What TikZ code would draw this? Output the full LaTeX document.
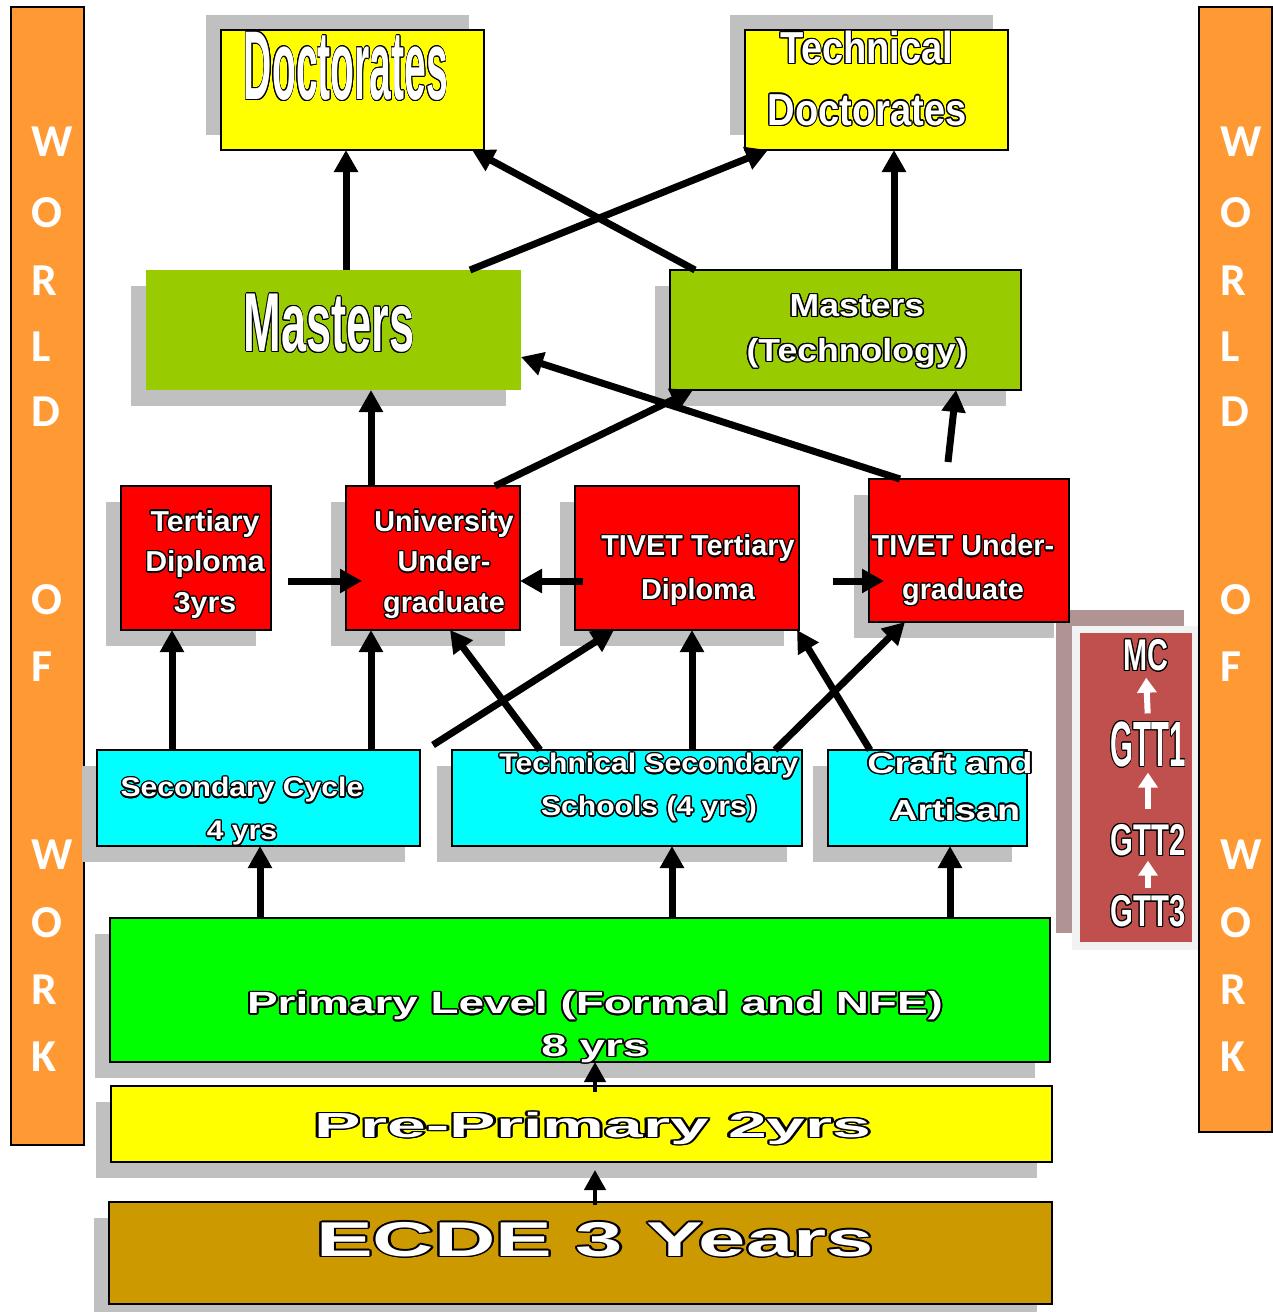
\documentclass[tikz,border=0pt]{standalone}
\usepackage{fontspec}
\setmainfont{Liberation Sans}
\newfontfamily\wowfont{Carlito}
\usepackage{graphicx}
\usepackage{contour}
\contourlength{0.7pt}
\usetikzlibrary{calc,arrows.meta,shadows}
\definecolor{orng}{HTML}{FF9933}
\definecolor{yel}{HTML}{FFFF00}
\definecolor{mgrn}{HTML}{99CC00}
\definecolor{rd}{HTML}{FF0000}
\definecolor{cyn}{HTML}{00FFFF}
\definecolor{pgrn}{HTML}{00FF00}
\definecolor{ecdecol}{HTML}{CC9900}
\definecolor{shade}{HTML}{C0C0C0}
\definecolor{gttred}{HTML}{C0504D}
\definecolor{gttsh}{HTML}{B09494}
\definecolor{gttfr}{HTML}{F2F2F2}
\newcommand{\otxt}[2][1]{\scalebox{#1}[1]{\contour{black}{#2}}}
\tikzset{
  box/.style={draw=black, line width=0.6pt, inner sep=0pt, outer sep=0pt},
  shdn/.style={drop shadow={shadow xshift=-3.1mm, shadow yshift=-3.1mm, fill=shade, opacity=1}},
  shup/.style={drop shadow={shadow xshift=-3mm, shadow yshift=3mm, fill=shade, opacity=1}},
  arr/.style={line width=1.4mm, -{Triangle[length=4.4mm,width=4.6mm]}},
  arrs/.style={line width=0.9mm, -{Triangle[length=4mm,width=4.2mm]}},
  warr/.style={draw=white, line width=1.2mm, -{Triangle[length=3mm,width=3.8mm]}},
  lbl/.style={text=white, inner sep=0pt, align=center},
  wow/.style={text=white, inner sep=0pt, anchor=west, font=\wowfont\bfseries\fontsize{26}{26}\selectfont},
}

\begin{document}
\begin{tikzpicture}[x=0.2mm, y=-0.2mm]
  \def\px{0.2mm}
  \useasboundingbox (0,0) rectangle (1273,1312);
  % world of work bars
  \node[box, fill=orng, minimum width=73*\px, minimum height=1138*\px] (wl) at (47.5,576) {};
  \node[box, fill=orng, minimum width=73*\px, minimum height=1125*\px] (wr) at (1235.5,569.5) {};
  \foreach \c/\y in {W/142,O/213,R/281,L/347,D/412,O/600,F/667,W/855,O/923,R/990,K/1057} {
    \node[wow] (wl\y) at (31,\y) {\c};
    \node[wow] (wr\y) at (1220,\y) {\c};
  }
  % trade test panel
  \fill[gttsh] (1056,610) rectangle (1184,933);
  \fill[gttfr] (1072,626) rectangle (1198,950);
  \node[fill=gttred, inner sep=0pt, minimum width=112*\px, minimum height=309*\px] (gtt) at (1136,787.5) {};
  \node[lbl, font=\bfseries\fontsize{25.3}{25.3}\selectfont] (mc) at (1146,656) {\otxt[0.65]{MC}};
  \node[lbl, font=\bfseries\fontsize{36.4}{36.4}\selectfont] (g1) at (1148,745) {\otxt[0.46]{GTT1}};
  \node[lbl, font=\bfseries\fontsize{25.3}{25.3}\selectfont] (g2) at (1148,841) {\otxt[0.66]{GTT2}};
  \node[lbl, font=\bfseries\fontsize{25.3}{25.3}\selectfont] (g3) at (1148,912) {\otxt[0.66]{GTT3}};
  \draw[warr, shorten <=1.6mm, shorten >=1mm] (g1.north) -- (mc.south);
  \draw[warr, shorten <=3mm, shorten >=0.8mm] (g2.north) -- (g1.south);
  \draw[warr, shorten <=1.4mm, shorten >=0.6mm] (g3.north) -- (g2.south);
  % doctorates
  \node[box, fill=yel, shup, minimum width=263*\px, minimum height=120*\px] (doc) at (352.5,90) {};
  \node[box, fill=yel, shup, minimum width=263*\px, minimum height=120*\px] (tdoc) at (876.5,90) {};
  % masters
  \node[box, draw=none, fill=mgrn, shdn, minimum width=375*\px, minimum height=120*\px] (mast) at (333.5,330) {};
  \node[box, fill=mgrn, shdn, minimum width=351*\px, minimum height=120*\px] (mtech) at (845.5,330) {};
  % tertiary
  \node[box, fill=rd, shdn, minimum width=150*\px, minimum height=144*\px] (tdip) at (196,558) {};
  \node[box, fill=rd, shdn, minimum width=174*\px, minimum height=144*\px] (uug) at (433,558) {};
  \node[box, fill=rd, shdn, minimum width=224*\px, minimum height=144*\px] (ttd) at (687,558) {};
  \node[box, fill=rd, shdn, minimum width=200*\px, minimum height=143*\px] (tug) at (969,550.5) {};
  % secondary
  \node[box, fill=cyn, shdn, minimum width=323*\px, minimum height=96*\px] (sec) at (258.5,798) {};
  \node[box, fill=cyn, shdn, minimum width=350*\px, minimum height=96*\px] (tss) at (627,798) {};
  \node[box, fill=cyn, shdn, minimum width=199*\px, minimum height=96*\px] (craft) at (927.5,798) {};
  % primary and below
  \node[box, fill=pgrn, shdn, minimum width=940*\px, minimum height=144*\px] (prim) at (580,990) {};
  \node[box, fill=yel, shdn, minimum width=941*\px, minimum height=76*\px] (pre) at (581.5,1124) {};
  \node[box, fill=ecdecol, shdn, minimum width=943*\px, minimum height=102*\px] (ecde) at (580.5,1253) {};

  % labels
  \node[lbl, font=\bfseries\fontsize{55.6}{55.6}\selectfont] (doc-t) at (346,67) {\otxt[0.40]{Doctorates}};
  \node[lbl, font=\bfseries\fontsize{25.5}{35}\selectfont] (tdoc-t) at (867,79) {\otxt[0.85]{Technical}\\\otxt[0.85]{Doctorates}};
  \node[lbl, font=\bfseries\fontsize{47.6}{47.6}\selectfont] (mast-t) at (329,324) {\otxt[0.54]{Masters}};
  \node[lbl, font=\bfseries\fontsize{18.1}{25.5}\selectfont] (mtech-t) at (857,332) {\otxt[1.12]{Masters}\\\otxt[1.12]{(Technology)}};
  \node[lbl, font=\bfseries\fontsize{16.4}{23.2}\selectfont] (tdip-t) at (205,565) {\otxt[1.05]{Tertiary}\\\otxt[1.05]{Diploma}\\\otxt[1.05]{3yrs}};
  \node[lbl, font=\bfseries\fontsize{16.4}{23.2}\selectfont] (uug-t) at (444,565) {\otxt{University}\\\otxt{Under-}\\\otxt{graduate}};
  \node[lbl, font=\bfseries\fontsize{16.4}{24.9}\selectfont] (ttd-t) at (698,571) {\otxt{TIVET Tertiary}\\\otxt{Diploma}};
  \node[lbl, font=\bfseries\fontsize{16.4}{24.9}\selectfont] (tug-t) at (963,571) {\otxt{TIVET Under-}\\\otxt{graduate}};
  \node[lbl, font=\bfseries\fontsize{15.3}{24.4}\selectfont] (sec-t) at (242,812) {\otxt[1.12]{Secondary Cycle}\\\otxt[1.12]{4 yrs}};
  \node[lbl, font=\bfseries\fontsize{15.3}{24.4}\selectfont] (tss-t) at (649,788) {\otxt[1.12]{Technical Secondary}\\\otxt[1.12]{Schools (4 yrs)}};
  \node[lbl, font=\bfseries\fontsize{16.5}{26.6}\selectfont] (craft-t) at (950,787) {\otxt[1.3]{Craft and}\\\otxt[1.3]{~Artisan}};
  \node[lbl, font=\bfseries\fontsize{17.4}{24.4}\selectfont] (prim-t) at (595,1028) {\otxt[1.5]{Primary Level (Formal and NFE)}\\\otxt[1.5]{8 yrs}};
  \node[lbl, font=\bfseries\fontsize{19.8}{19.8}\selectfont] (pre-t) at (593,1129) {\otxt[2.0]{Pre-Primary 2yrs}};
  \node[lbl, font=\bfseries\fontsize{27.8}{27.8}\selectfont] (ecde-t) at (595,1240) {\otxt[1.74]{ECDE 3 Years}};

  % to doctorates
  \draw[arr] (mast.north -| 346,0) -- (doc.south -| 346,0);
  \draw[arr] (mast.north -| 470,0) -- (tdoc.south -| 768,0);
  \draw[arr] (mtech.north -| 695,0) -- (doc.south -| 472,0);
  \draw[arr] (mtech.north -| 894,0) -- (tdoc.south -| 894,0);
  % to masters
  \draw[arr] (uug.north -| 371,0) -- (mast.south -| 371,0);
  \draw[arr] (uug.north -| 495,0) -- (mtech.south -| 693,0);
  \draw[arr] (tug.north -| 900,0) -- (mast.east |- 0,357);
  \coordinate (tugtop) at (948,462);
  \draw[arr] (tugtop) -- (mtech.south -| 956,0);
  % sideways
  \draw[arr, shorten <=3.4mm, shorten >=-3.2mm] (tdip.east |- 0,581) -- (uug.west |- 0,581);
  \draw[arr, shorten <=-1.6mm] (ttd.west |- 0,581) -- (uug.east |- 0,581);
  \draw[arr, shorten <=6.8mm, shorten >=-3mm] (ttd.east |- 0,581) -- (tug.west |- 0,581);
  % from secondary
  \draw[arr] (sec.north -| 172,0) -- (tdip.south -| 172,0);
  \draw[arr] (sec.north -| 371,0) -- (uug.south -| 371,0);
  \draw[arr] ($(sec.north east)+(13,-5)$) -- (ttd.south -| 614,0);
  \draw[arr] (tss.north -| 540,0) -- (uug.south -| 450,0);
  \draw[arr] (tss.north -| 692,0) -- (ttd.south -| 692,0);
  \draw[arr] (tss.north -| 775,0) -- (tug.south -| 905,0);
  \draw[arr] (craft.north -| 870,0) -- (ttd.south -| 797,0);
  % from primary
  \foreach \xx/\tgt in {260/sec,672/tss,950/craft}
    \draw[arr] (prim.north -| \xx,0) -- (\tgt.south -| \xx,0);
  \draw[arrs, shorten <=-1.2mm] (pre.north -| 595,0) -- (prim.south -| 595,0);
  \draw[arrs, shorten <=-0.6mm, shorten >=1.6mm] (ecde.north -| 595,0) -- (pre.south -| 595,0);
\end{tikzpicture}
\end{document}
